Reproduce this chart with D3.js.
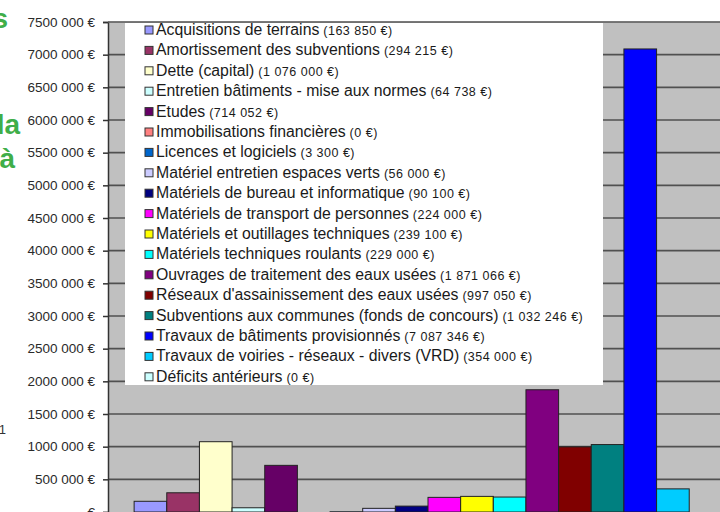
<!DOCTYPE html>
<html>
<head>
<meta charset="utf-8">
<script src="https://cdn.jsdelivr.net/npm/d3@7"></script>
<style>
  body { margin: 0; background: #fff; }
  svg { display: block; font-family: Arial, "Liberation Sans", sans-serif; }
</style>
</head>
<body>
<div id="chart"></div>
<script>
// chart size
var width = 720,
    height = 512;

// plot area (right side runs past the picture, as in the original crop)
var plot = {left: 108, top: 22, right: 748, bottom: 512};

// data
var categories = ["Acquisitions de terrains", "Amortissement des subventions", "Dette (capital)",
  "Entretien bâtiments - mise aux normes", "Etudes", "Immobilisations financières",
  "Licences et logiciels", "Matériel entretien espaces verts", "Matériels de bureau et informatique",
  "Matériels de transport de personnes", "Matériels et outillages techniques",
  "Matériels techniques roulants", "Ouvrages de traitement des eaux usées",
  "Réseaux d'assainissement des eaux usées", "Subventions aux communes (fonds de concours)",
  "Travaux de bâtiments provisionnés", "Travaux de voiries - réseaux - divers (VRD)",
  "Déficits antérieurs"];
var amounts = [163850, 294215, 1076000, 64738, 714052, 0, 3300, 56000, 90100,
  224000, 239100, 229000, 1871066, 997050, 1032246, 7087346, 354000, 0];
var colors = ["#9999ff", "#993366", "#ffffcc", "#ccffff", "#660066", "#ff8080", "#0066cc",
  "#ccccff", "#000080", "#ff00ff", "#ffff00", "#00ffff", "#800080", "#800000",
  "#008080", "#0000ff", "#00ccff", "#ccffff"];
var yTicks = [0, 500000, 1000000, 1500000, 2000000, 2500000, 3000000, 3500000,
  4000000, 4500000, 5000000, 5500000, 6000000, 6500000, 7000000, 7500000];

var svg = d3.select("#chart").append("svg")
    .attr("width", width)
    .attr("height", height);

var x = d3.scaleBand()
    .domain(categories)
    .range([plot.left, plot.right])
    .paddingInner(0)
    .paddingOuter(0.8);

var y = d3.scaleLinear()
    .domain([0, 7500000])
    .range([plot.bottom, plot.top]);

// euros with space separators
function euros(v) {
  return d3.format(",")(v).replace(/,/g, " ") + " €";
}
function tickLabel(v) {
  if (v === 0) return "€";
  return (v / 1000) + " 000 €";
}

// grey plot background
svg.append("rect")
    .attr("x", plot.left)
    .attr("y", plot.top)
    .attr("width", plot.right - plot.left)
    .attr("height", plot.bottom - plot.top)
    .attr("fill", "#c0c0c0");

// gridlines
svg.append("g")
  .selectAll("line")
  .data(yTicks.filter(function(d) { return d > 0; }))
  .enter().append("line")
    .attr("x1", plot.left)
    .attr("x2", plot.right)
    .attr("y1", function(d) { return y(d); })
    .attr("y2", function(d) { return y(d); })
    .attr("stroke", "#505050")
    .attr("stroke-width", 1.6);

// bars
svg.append("g")
  .selectAll("rect")
  .data(amounts)
  .enter().append("rect")
    .attr("x", function(d, i) { return x(categories[i]); })
    .attr("y", function(d) { return y(d); })
    .attr("width", x.bandwidth())
    .attr("height", function(d) { return y(0) - y(d); })
    .attr("fill", function(d, i) { return colors[i]; })
    .attr("stroke", function(d) { return d > 0 ? "#222" : "none"; })
    .attr("stroke-width", 1);

// y axis
var yAxis = d3.axisLeft(y)
    .tickValues(yTicks)
    .tickFormat(tickLabel)
    .tickSize(5)
    .tickPadding(8);

var ax = svg.append("g")
    .attr("transform", "translate(" + plot.left + ",0)")
    .attr("font-size", 13.5)
    .attr("font-family", "Arial, 'Liberation Sans', sans-serif")
    .call(yAxis);
ax.select(".domain").attr("stroke", "#333").attr("stroke-width", 1.5);
ax.selectAll(".tick line").attr("stroke", "#333").attr("stroke-width", 1.5);
ax.selectAll(".tick text")
    .attr("fill", "#2a2a2a")
    .attr("font-size", 13.5);

// legend box
var leg = svg.append("g");
leg.append("rect")
    .attr("x", 125)
    .attr("y", plot.top + 1)
    .attr("width", 478)
    .attr("height", 362)
    .attr("fill", "#fff");

var rows = leg.selectAll("g.row")
  .data(categories)
  .enter().append("g")
    .attr("class", "row")
    .attr("transform", function(d, i) { return "translate(145," + (30 + i * 20.4) + ")"; });

rows.append("rect")
    .attr("x", 0)
    .attr("y", -4)
    .attr("width", 8)
    .attr("height", 8)
    .attr("fill", function(d, i) { return colors[i]; })
    .attr("stroke", "#333")
    .attr("stroke-width", 1);

var lt = rows.append("text")
    .attr("x", 11)
    .attr("y", 5)
    .attr("fill", "#1a1a1a")
    .style("font-size", "15.8px")
    .text(function(d) { return d; });
lt.append("tspan")
    .style("font-size", "12.5px")
    .style("letter-spacing", "0.5px")
    .text(function(d, i) { return " (" + euros(amounts[i]) + ")"; });

// top border of plot area
svg.append("line")
    .attr("x1", plot.left)
    .attr("x2", width)
    .attr("y1", plot.top)
    .attr("y2", plot.top)
    .attr("stroke", "#777")
    .attr("stroke-width", 1);

// fragments of slide text cut at the left edge
var green = "#3fae49";
[["s", 8, 28], ["la", 20, 134], ["à", 15, 168]].forEach(function(t) {
  svg.append("text")
      .attr("x", t[1])
      .attr("y", t[2])
      .attr("text-anchor", "end")
      .attr("fill", green)
      .style("font-size", "28px")
      .style("font-weight", "bold")
      .text(t[0]);
});
svg.append("text")
    .attr("x", 6)
    .attr("y", 434)
    .attr("text-anchor", "end")
    .attr("fill", "#333")
    .style("font-size", "13px")
    .text("1");
</script>
</body>
</html>
